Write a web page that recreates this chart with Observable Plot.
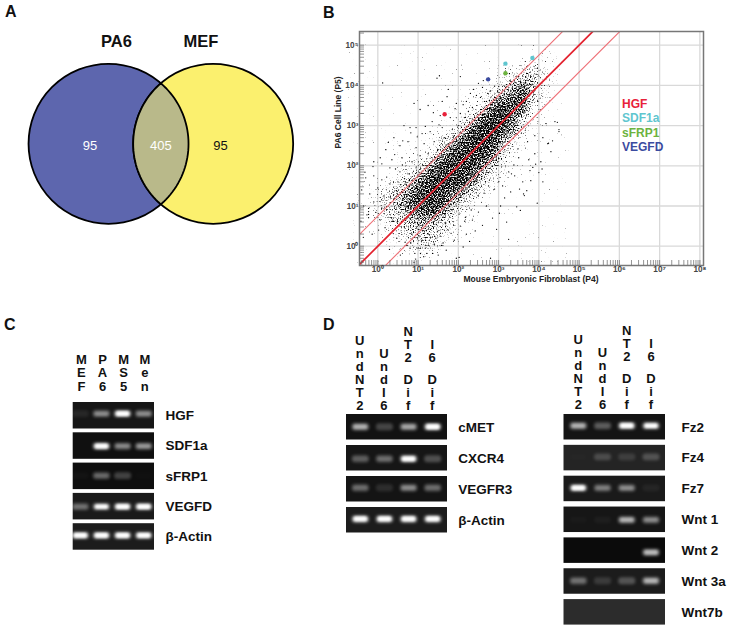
<!DOCTYPE html>
<html><head><meta charset="utf-8">
<script src="https://cdn.jsdelivr.net/npm/d3@7"></script>
<script src="https://cdn.jsdelivr.net/npm/@observablehq/plot@0.6"></script>
<style>
html,body{margin:0;background:#fff}
#page{position:relative;width:729px;height:631px;overflow:hidden;font-family:"Liberation Sans",Arial,sans-serif}
#page svg{position:absolute;background:transparent;overflow:visible}
.letter{position:absolute;font-weight:bold;font-size:16px;line-height:16px;color:#111}
#legend{position:absolute;left:622px;top:97px;font-weight:bold;font-size:12px;line-height:14.4px}
</style></head><body><div id="page">
<svg width="0" height="0" style="position:absolute"><defs>
<filter id="speckle" x="-5%" y="-5%" width="110%" height="110%" color-interpolation-filters="sRGB">
  <feGaussianBlur in="SourceAlpha" stdDeviation="3" result="d"/>
  <feTurbulence type="fractalNoise" baseFrequency="0.75" numOctaves="1" seed="7" result="n"/>
  <feColorMatrix in="n" type="matrix" values="0 0 0 0 0  0 0 0 0 0  0 0 0 0 0  1 0 0 0 0" result="na"/>
  <feComposite in="d" in2="na" operator="arithmetic" k1="0" k2="0.4" k3="1" k4="-0.72" result="m"/>
  <feComponentTransfer in="m"><feFuncA type="linear" slope="5" intercept="0"/></feComponentTransfer>
  <feGaussianBlur stdDeviation="0.3"/>
</filter></defs></svg>
</div>
<script>
// ---------- Panel A ----------
const vennCounts = [95, 405, 95];
const vennNames = ["PA6", "MEF"];
// ---------- Panel B (values are log10) ----------
const xDecades = [0,1,2,3,4,5,6,7,8];
const yDecades = [0,1,2,3,4,5];
const foldLines = [0.75, 0, -0.67];
const highlighted = ["HGF","SDF1a","SDF1a","sFRP1","VEGFD"];
const highlightX = [1.66,3.17,3.84,3.17,2.74];
const highlightY = [3.28,4.54,4.68,4.30,4.15];
const legendNames = ["HGF","SDF1a","sFRP1","VEGFD"];
const legendColors = ["#e8213a","#5fc6cf","#6cb33f","#3b4ba0"];
// density of the cloud, top row first, one digit per quarter decade from x = -0.5
const densityRows = [
"00000000000000001221","00000000000000123421","00000000000001245521","00000000000112468421",
"00000000001125788321","00000000011258987210","00000000112589973210","00000001125899863100",
"00000011358999631100","00000112589998421000","00001225899986310000","00012358999863210000",
"00123589999742100000","01235799987421000000","11346899964210000000","11345789742110000000",
"01234566431100000000","01123454321000000000","00112343210000000000","00012232100000000000"];
const scatterX = [.12,1.53,1.47,2.05,2.6,2.5,2.73,2.9,2.3,1.75,1.6,1.25,.9,1.05,2.2,2.35,2.45,2.7,2.05,1.95,2.15,1.8,1.55,1.35,.8,.65,.95,1.1,1.3,1.6,1.85,2,2.25,.4,.55,.75,.95,1.15,1.4,1.65,1.5,1.75,1.9,.2,.35,.6,.85,1.05,1.25,-.1,.1,.3,.55,.75,.95,-.3,-.1,.1,.3,.5,-.4,-.2,0,.15,-.35,-.1,.1,.22,.44,.61,.31,.48,.7,-.42,-.27,-.05,.05,.02,-.23,-.23,-.23,-.23,-.36,-.14,.18,.36,.52,.68,.29,.47,
1,1.1,1.25,1.4,1.55,1.75,1.9,2.05,2.2,2.35,2.5,2.7,2.85,3.05,3.15,3.3,3.1,3.4,3.6,3.75,3.9,4.05,4.3,4.5,4.5,4.1,3.9,3.5,3.25,3,2.75,2.5,3.8,4,4.1,3.96,3.54,3.25,2.8,1.06,.92,1.22,1.36,1.06,.8,.94,1.18,1.5,1.7,1.62,1.3,.68,.84,1.95,2.12,2.28,2.42,2.6,2.95,3.2,3.45,3.7,2.02,1.44,1.58,1.82,2.16,2.64,2.9,3.32,.56,.72,.9,1.02,1.14,1.48,3.02,3.62,3.85,4.22,4.4,4.18,3.72,3.48,
2.62,2.38,2.55,2.8,2.72,2.95,2.48,3.02,3.15,3.28,1.92,2.12,1.72,1.52,1.38,1.18,.98,.82,.62,.42,.26,.06,-.12,-.32,1.02,.82,.66,.48,.34,2.18,2.32,2.02,1.84,1.68,3.38,3.52,3.64,3.78,3.92,4.08,4.24,4.34,4.46];
const scatterY = [4.06,4.24,4.18,4.22,3.95,4.05,3.8,3.98,3.8,3.9,3.6,3.5,3.55,3.4,3.6,3.45,3.75,3.6,3.3,3.55,3.2,3.2,3.25,3.1,2.95,3,2.95,2.8,2.85,2.95,2.9,3,3.35,2.7,2.5,2.6,2.45,2.55,2.6,2.7,2.4,2.55,2.75,2.4,2.15,2.2,2.1,2.25,2.3,2.1,2.05,1.95,1.85,1.8,1.95,1.7,1.75,1.65,1.55,1.6,1.4,1.3,1.45,1.25,1,1.1,.95,1.72,1.92,2.02,1.22,1.36,1.58,.62,.78,.84,.66,.4,.71,.79,.86,.94,.22,.3,.46,.62,.84,.98,-.08,.2,
-.05,.15,.3,.05,.25,.4,.15,.5,.3,.65,.85,1,.7,1,1.2,1.35,1.5,1.75,1.6,2.15,2.3,2.1,2.35,2.9,2.85,2.7,2.75,2.2,1.85,1.6,1.5,1.25,1.63,1.83,1.6,1.07,.89,.17,-.3,-.18,-.18,-.18,-.18,-.05,-.05,-.32,-.05,-.22,-.1,.08,.22,.1,.3,-.3,-.02,.12,.38,.52,.42,.6,.98,1.38,-.28,.2,.02,.32,.62,1.32,1.42,1.8,-.22,.02,-.4,.42,-.26,.36,.82,1.3,1.96,2.55,3.1,3.05,2.6,2.42,
4.12,3.9,3.7,3.86,3.4,3.62,3.28,3.72,3.98,4.12,3.42,3.52,3.72,3.02,3.32,2.98,2.72,2.82,2.62,2.28,2.58,2.2,1.98,1.84,.26,.08,.48,.6,.7,.72,.9,.8,.9,.56,2.02,1.42,1.26,1.88,2.04,1.92,2.56,2.62,3.08];
// ---------- Panels C and D: band brightness per lane ----------
const lanesC = ["M\nE\nF","P\nA\n6","M\nS\n5","M\ne\nn"];
const genesC = ["HGF","SDF1a","sFRP1","VEGFD","β-Actin"];
const bandsC = [[.12,.6,1,.6],[0,1,.6,.65],[.04,.5,.35,.02],[.5,.85,1,1],[1,1,1,.95]];
const bandPosC = [.44,.52,.49,.52,.46];
const shadeC = ["#161616","#101010","#0e0e0e","#1a1a1a","#1c1c1c"];
const lanesD = ["U\nn\nd\nN\nT\n2","U\nn\nd\nI\n6","D\ni\nf","D\ni\nf"];
const upperLanesD = ["","","N\nT\n2","I\n6"];
const genesD1 = ["cMET","CXCR4","VEGFR3","β-Actin"];
const bandsD1 = [[.75,.35,.7,1],[.45,.5,1,.4],[.5,.18,.6,.5],[1,1,1,1]];
const bandPosD1 = [.5,.54,.46,.47];
const shadeD1 = ["#121212","#161616","#141414","#1c1c1c"];
const genesD2 = ["Fz2","Fz4","Fz7","Wnt 1","Wnt 2","Wnt 3a","Wnt7b"];
const bandsD2 = [[.75,.45,1,.9],[.02,.3,.2,.35],[1,.55,.6,.08],[.03,.06,.75,.6],[0,0,0,.8],[.5,.22,.4,.75],[0,0,0,0]];
const bandPosD2 = [.46,.47,.48,.52,.59,.49,.5];
const shadeD2 = ["#141414","#242424","#1a1a1a","#161616","#0b0b0b","#1c1c1c","#2c2c2c"];

const page = document.getElementById("page");
const place = (svg, left, top) => { svg.style.left = left+"px"; svg.style.top = top+"px"; page.appendChild(svg); };
const font = '"Liberation Sans",Arial,sans-serif';
const noMargin = {marginLeft:0,marginRight:0,marginTop:0,marginBottom:0};

// ----- A: Venn -----
(function(){
  const c = 0.654;
  const half = Math.acos(c);
  const arc = d3.range(0,41).map(i => -half + 2*half*i/40);
  const lens = [
    ...arc.map(t => ({x: -c + Math.cos(t), y: Math.sin(t)})),
    ...arc.map(t => ({x:  c - Math.cos(t), y: -Math.sin(t)}))
  ];
  const w = {fontFamily:font};
  place(Plot.plot({...noMargin,width:310,height:240,style:{fontFamily:font},
    x:{domain:[-1,1],range:[80.35,240.35],axis:null},
    y:{domain:[-1,1],range:[223.3,63.3],axis:null},
    marks:[
      Plot.dot([{x:-c,y:0}],{x:"x",y:"y",r:80,fill:"#5d66ae",stroke:"#000",strokeWidth:1.8}),
      Plot.dot([{x:c,y:0}],{x:"x",y:"y",r:80,fill:"#fbf06e",stroke:"#000",strokeWidth:1.8}),
      Plot.line(lens,{x:"x",y:"y",fill:"#b9b98a",stroke:"#000",strokeWidth:1.8,curve:"linear-closed"}),
      Plot.text(vennCounts,{x:[-.886,0,.745],y:[-.02,-.02,-.02],text:d=>String(d),fill:["#fff","#fff","#111"],fontSize:13,...w}),
      Plot.text(vennNames,{x:[-.555,.5],y:[1.28,1.28],text:d=>d,fontSize:16.5,fontWeight:"bold",fill:"#111",...w})
    ]}),0,0);
})();

// ----- B: scatter -----
(function(){
  const sup = {0:"⁰",1:"¹",2:"²",3:"³",4:"⁴",5:"⁵",6:"⁶",7:"⁷",8:"⁸"};
  const pow = d => Math.pow(10,d);
  const fmt = v => "10" + sup[Math.round(Math.log10(v))];
  const xDom = [-0.455,8.09], yDom = [-0.48,5.34];
  const cells = [];
  densityRows.forEach((row,r)=>{
    [...row].forEach((ch,c)=>{
      if(ch!=="0") cells.push({x1:pow(-.5+.25*c),x2:pow(-.25+.25*c),y1:pow(4.5-.25*r),y2:pow(4.75-.25*r),d:+ch});
    });
  });
  const points = scatterX.map((x,i)=>({x:pow(x),y:pow(scatterY[i])}));
  const minor = dec => dec.flatMap(k=>[1,2,3,4,5,6,7,8,9].map(m=>m*pow(k)));
  const minorX = minor([-1,...xDecades]).filter(v=>v>=pow(xDom[0])&&v<=pow(xDom[1]));
  const minorY = minor([-1,...yDecades]).filter(v=>v>=pow(yDom[0])&&v<=pow(yDom[1]));
  const links = foldLines.map((off,i)=>({x1:pow(xDom[0]),x2:pow(xDom[1]),y1:pow(xDom[0]+off),y2:pow(xDom[1]+off),main:off===0}));
  place(Plot.plot({width:390,height:290,marginLeft:39,marginRight:7,marginTop:31,marginBottom:25,
    style:{fontFamily:font},
    x:{type:"log",domain:xDom.map(pow),label:null},
    y:{type:"log",domain:yDom.map(pow),label:null},
    marks:[
      Plot.gridX(xDecades.map(pow),{stroke:"#d9d9d9",strokeWidth:1.3,strokeOpacity:1}),
      Plot.gridY(yDecades.map(pow),{stroke:"#d9d9d9",strokeWidth:1.3,strokeOpacity:1}),
      Plot.rect(cells,{x1:"x1",x2:"x2",y1:"y1",y2:"y2",fill:"#000",fillOpacity:d=>Math.pow(d.d/9,.8),imageFilter:"url(#speckle)"}),
      Plot.dot(points,{x:"x",y:"y",r:0.65,fill:"#000",clip:true}),
      Plot.link(links.filter(d=>!d.main),{x1:"x1",x2:"x2",y1:"y1",y2:"y2",stroke:"#ee6f76",strokeWidth:1.1,clip:true}),
      Plot.link(links.filter(d=>d.main),{x1:"x1",x2:"x2",y1:"y1",y2:"y2",stroke:"#e3202d",strokeWidth:1.7,clip:true}),
      Plot.dot(highlighted.map((n,i)=>({n,x:pow(highlightX[i]),y:pow(highlightY[i])})),
        {x:"x",y:"y",r:2.2,fill:d=>legendColors[legendNames.indexOf(d.n)]}),
      Plot.tickX(minorX,{x:d=>d,stroke:"#666",strokeWidth:.7,insetTop:229}),
      Plot.tickY(minorY,{y:d=>d,stroke:"#666",strokeWidth:.7,insetRight:339}),
      Plot.frame({stroke:"#777",strokeWidth:1.5}),
      Plot.axisX(xDecades.map(pow),{tickFormat:fmt,tickSize:0,tickPadding:1,fontSize:8.2,fontWeight:"bold",fill:"#444",label:null}),
      Plot.axisY(yDecades.map(pow),{tickFormat:fmt,tickSize:0,tickPadding:1,fontSize:8.2,fontWeight:"bold",fill:"#444",label:null}),
      Plot.text(["Mouse Embryonic Fibroblast (P4)"],{frameAnchor:"bottom",text:d=>d,dx:-0.5,dy:16.5,fontSize:8.5,fontWeight:"bold",fill:"#222"}),
      Plot.text(["PA6 Cell Line (P5)"],{frameAnchor:"left",text:d=>d,rotate:-90,dx:-21,dy:0,fontSize:8.5,fontWeight:"bold",fill:"#222"})
    ]}),320,0);
  const lg = document.createElement("div"); lg.id="legend";
  legendNames.forEach((n,i)=>{const s=document.createElement("div");s.textContent=n;s.style.color=legendColors[i];lg.appendChild(s);});
  page.appendChild(lg);
})();

// ----- C, D: gels -----
function gel(o){
  const n = o.genes.length, pitch = o.pitch;
  const topUnits = -o.gelTop/pitch;
  const lanePx0 = o.lane0, lanePx3 = o.lane3, laneW = (lanePx3-lanePx0)/3;
  const gelH = o.gelH/pitch;
  const backs = o.genes.map((g,i)=>({g,i,fill:o.shade[i],
    x1:(o.gelLeft-lanePx0)/laneW,x2:(o.gelRight-lanePx0)/laneW,y1:i,y2:i+gelH}));
  const bands = o.bands.flatMap((row,i)=>row.map((v,l)=>({v,l,i,c:i+o.pos[i]*gelH}))).filter(d=>d.v>0);
  const hw = 8.5/laneW, coreW = 6.5/laneW, hh = 3.4/pitch;
  const marks = [
    Plot.rect(backs,{x1:"x1",x2:"x2",y1:"y1",y2:"y2",fill:"fill"}),
    Plot.rect(bands,{x1:d=>d.l-hw,x2:d=>d.l+hw,y1:d=>d.c-hh,y2:d=>d.c+hh,fill:"#fff",rx:3,
      fillOpacity:d=>d.v*.62,imageFilter:"blur(1.6px)"}),
    Plot.rect(bands.filter(d=>d.v>.4),{x1:d=>d.l-coreW,x2:d=>d.l+coreW,y1:d=>d.c-hh*(.25+.45*d.v),y2:d=>d.c+hh*(.25+.45*d.v),fill:"#fff",rx:2,
      fillOpacity:d=>d.v>=.85?1:(d.v-.4)*1.1,imageFilter:"blur(1px)"}),
    Plot.text(o.genes.map((g,i)=>({g,i})),{x:3,y:d=>d.i+gelH/2,text:"g",textAnchor:"start",
      dx:o.labelX-lanePx3,fontSize:13.5,fontWeight:"bold",fill:"#111"}),
    Plot.text(o.lanes.map((t,l)=>({t,l})),{x:"l",y:o.laneY,text:"t",lineAnchor:"bottom",lineHeight:o.lineHeight,dx:o.laneDx,
      fontSize:13,fontWeight:"bold",fill:"#111"})
  ];
  if(o.upper) marks.push(Plot.text(o.upper.map((t,l)=>({t,l})),{x:"l",y:o.upperY,text:"t",lineAnchor:"bottom",lineHeight:o.lineHeight,dx:o.laneDx,
      fontSize:13,fontWeight:"bold",fill:"#111"}));
  place(Plot.plot({...noMargin,width:o.width,height:o.gelTop+n*pitch,style:{fontFamily:font},
    x:{domain:[0,3],range:[lanePx0-o.left,lanePx3-o.left],axis:null},
    y:{domain:[topUnits,n],range:[0,o.gelTop+n*pitch],axis:null},
    marks}),o.left,o.top-o.gelTop);
}
gel({genes:genesC,lanes:lanesC,bands:bandsC,pos:bandPosC,shade:shadeC,left:60,top:401.7,gelTop:60,pitch:30.3,gelH:26.5,
  lane0:80.3,lane3:143.7,gelLeft:72.7,gelRight:154,labelX:165,width:190,laneY:-.39,lineHeight:1.03,laneDx:.6});
gel({genes:genesD1,lanes:lanesD,upper:upperLanesD,bands:bandsD1,pos:bandPosD1,shade:shadeD1,left:335,top:414,gelTop:95,pitch:31,gelH:25.5,
  lane0:360.3,lane3:432.7,gelLeft:346,gelRight:447,labelX:457.7,width:190,laneY:-.16,upperY:-1.7,lineHeight:1,laneDx:-1});
gel({genes:genesD2,lanes:lanesD,upper:upperLanesD,bands:bandsD2,pos:bandPosD2,shade:shadeD2,left:555,top:414,gelTop:95,pitch:30.85,gelH:25.5,
  lane0:578.3,lane3:651,gelLeft:563.5,gelRight:665,labelX:681,width:174,laneY:-.18,upperY:-1.72,lineHeight:1,laneDx:-.5});

[["A",5,4],["B",323,5],["C",4,317],["D",323,317]].forEach(([t,l,tp])=>{
  const d=document.createElement("div");d.className="letter";d.textContent=t;d.style.left=l+"px";d.style.top=tp+"px";page.appendChild(d);
});
</script></body></html>
